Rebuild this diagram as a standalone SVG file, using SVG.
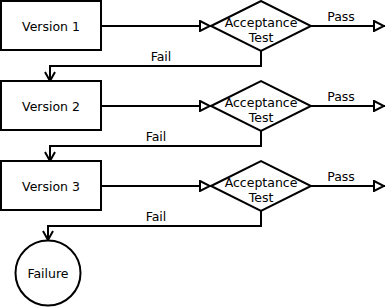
<svg xmlns="http://www.w3.org/2000/svg" width="388" height="307" viewBox="0 0 388 307">
  <style>
    .box { fill: #fff; stroke: #000; stroke-width: 2; }
    .edge { fill: none; stroke: #000; stroke-width: 2; }
    text { font-family: "DejaVu Sans", "Liberation Sans", sans-serif; font-size: 12.5px; fill: #000; text-anchor: middle; }
  </style>
  <defs>
    <marker id="tri" viewBox="0 0 12 12" refX="12" refY="6" markerWidth="12" markerHeight="12" markerUnits="userSpaceOnUse" orient="auto">
      <path d="M1,1 L11,6 L1,11 Z" fill="#fff" stroke="#000" stroke-width="2"/>
    </marker>
    <marker id="vee" viewBox="0 0 12 12" refX="6" refY="11" markerWidth="12" markerHeight="12" markerUnits="userSpaceOnUse" orient="0">
      <path d="M1,2 L6,11 L11,2" fill="none" stroke="#000" stroke-width="2"/>
    </marker>
  </defs>

  <g id="connectors">
    <path class="edge" d="M101,26 H211" marker-end="url(#tri)"/>
    <path class="edge" d="M310,26 H385" marker-end="url(#tri)"/>
    <path class="edge" d="M261,50 V66 H50 V81" marker-end="url(#vee)"/>
    <path class="edge" d="M101,106 H211" marker-end="url(#tri)"/>
    <path class="edge" d="M310,106 H385" marker-end="url(#tri)"/>
    <path class="edge" d="M261,130 V146 H50 V161" marker-end="url(#vee)"/>
    <path class="edge" d="M101,186 H211" marker-end="url(#tri)"/>
    <path class="edge" d="M310,186 H385" marker-end="url(#tri)"/>
    <path class="edge" d="M261,210 V226 H48 V240" marker-end="url(#vee)"/>
    <text x="341" y="21">Pass</text>
    <text x="161" y="61">Fail</text>
    <text x="341" y="101">Pass</text>
    <text x="156" y="141">Fail</text>
    <text x="341" y="181">Pass</text>
    <text x="156" y="221">Fail</text>
  </g>

  <g id="version1">
    <rect class="box" x="1" y="1" width="100" height="49"/>
    <text x="51" y="31">Version 1</text>
  </g>
  <g id="test1">
    <polygon class="box" points="211,26 261,1 311,26 261,51"/>
    <text x="261" y="26.5">Acceptance</text>
    <text x="261" y="41.5">Test</text>
  </g>
  <g id="version2">
    <rect class="box" x="1" y="81" width="100" height="49"/>
    <text x="51" y="111">Version 2</text>
  </g>
  <g id="test2">
    <polygon class="box" points="211,106 261,81 311,106 261,131"/>
    <text x="261" y="106.5">Acceptance</text>
    <text x="261" y="121.5">Test</text>
  </g>
  <g id="version3">
    <rect class="box" x="1" y="161" width="100" height="49"/>
    <text x="51" y="191">Version 3</text>
  </g>
  <g id="test3">
    <polygon class="box" points="211,186 261,161 311,186 261,211"/>
    <text x="261" y="186.5">Acceptance</text>
    <text x="261" y="201.5">Test</text>
  </g>
  <g id="failure">
    <circle class="box" cx="48" cy="273" r="32.5"/>
    <text x="48" y="278">Failure</text>
  </g>
</svg>
